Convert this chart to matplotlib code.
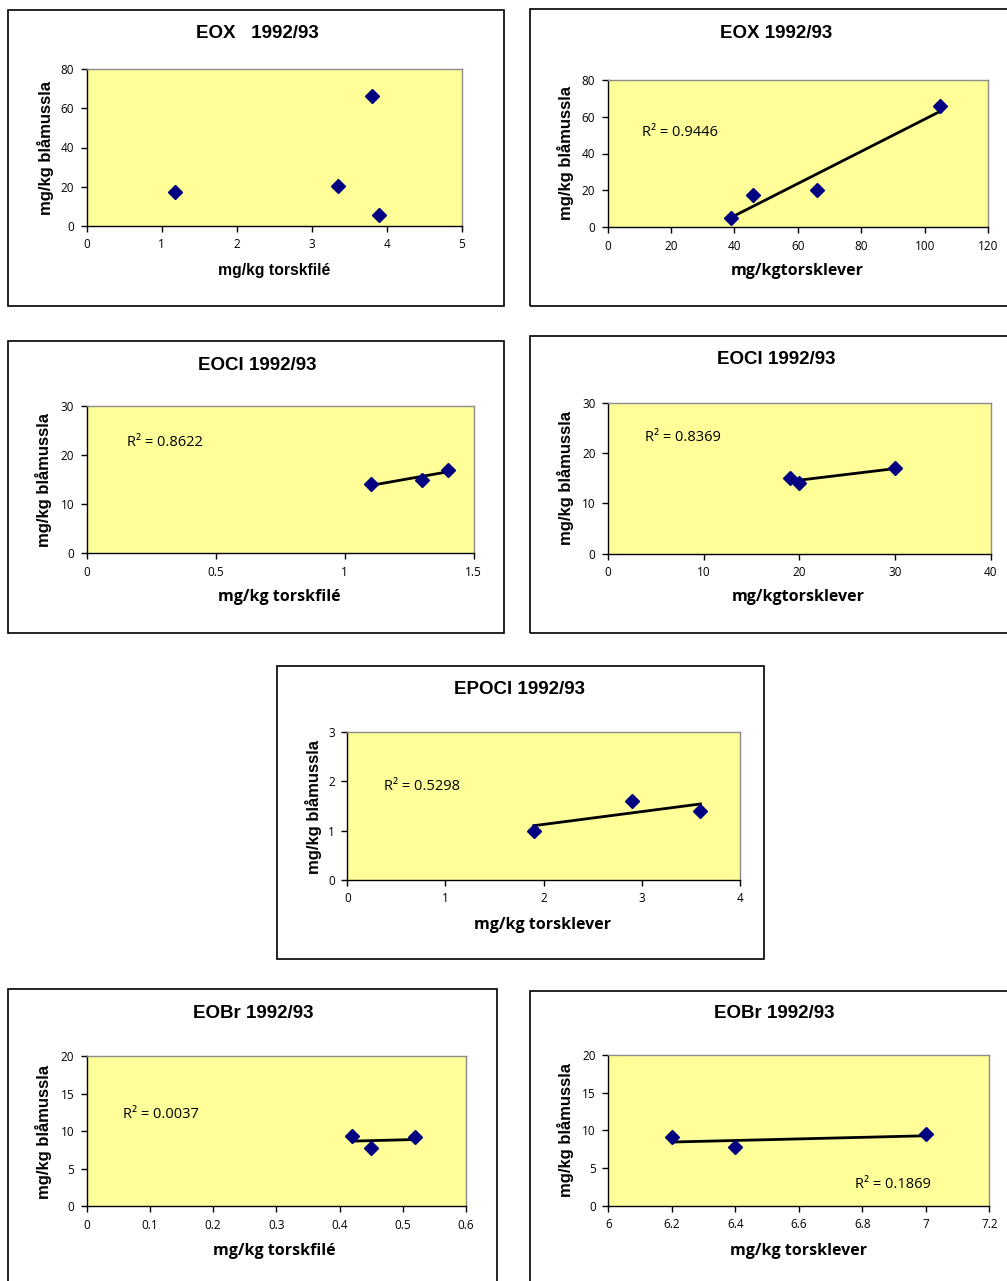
import matplotlib
matplotlib.use("Agg")
import matplotlib.pyplot as plt
import numpy as np
from matplotlib.patches import Rectangle
from matplotlib.ticker import FuncFormatter

W, H = 1007, 1281

# ---- data ----
eox_fil_x = [1.17, 3.35, 3.8, 3.9]
eox_fil_y = [17.5, 20.5, 66, 5.5]
eox_lev_x = [39, 46, 66, 105]
eox_lev_y = [5, 17.5, 20, 66]
eocl_fil_x = [1.1, 1.3, 1.4]
eocl_fil_y = [14, 15, 17]
eocl_lev_x = [19, 20, 30]
eocl_lev_y = [15, 14, 17]
epocl_lev_x = [1.9, 2.9, 3.6]
epocl_lev_y = [1.0, 1.6, 1.4]
eobr_fil_x = [0.42, 0.45, 0.52]
eobr_fil_y = [9.4, 7.7, 9.2]
eobr_lev_x = [6.2, 6.4, 7.0]
eobr_lev_y = [9.1, 7.8, 9.5]

titles = ["EOX   1992/93", "EOX 1992/93", "EOCl 1992/93", "EOCl 1992/93",
          "EPOCl 1992/93", "EOBr 1992/93", "EOBr 1992/93"]
xlabels = ["mg/kg torskfilé", "mg/kgtorsklever", "mg/kg torskfilé", "mg/kgtorsklever",
           "mg/kg torsklever", "mg/kg torskfilé", "mg/kg torsklever"]
ylabel = "mg/kg blåmussla"
r2_texts = [None, "R² = 0.9446", "R² = 0.8622", "R² = 0.8369", "R² = 0.5298",
            "R² = 0.0037", "R² = 0.1869"]
xticks = [[0, 1, 2, 3, 4, 5], [0, 20, 40, 60, 80, 100, 120], [0, 0.5, 1, 1.5],
          [0, 10, 20, 30, 40], [0, 1, 2, 3, 4], [0, 0.1, 0.2, 0.3, 0.4, 0.5, 0.6],
          [6, 6.2, 6.4, 6.6, 6.8, 7, 7.2]]
yticks = [[0, 20, 40, 60, 80], [0, 20, 40, 60, 80], [0, 10, 20, 30], [0, 10, 20, 30],
          [0, 1, 2, 3], [0, 5, 10, 15, 20], [0, 5, 10, 15, 20]]
datasets = [(eox_fil_x, eox_fil_y), (eox_lev_x, eox_lev_y), (eocl_fil_x, eocl_fil_y),
            (eocl_lev_x, eocl_lev_y), (epocl_lev_x, epocl_lev_y),
            (eobr_fil_x, eobr_fil_y), (eobr_lev_x, eobr_lev_y)]

# ---- layout (pixels) ----
frames = [(8, 10, 504, 306), (530, 9, 1012, 306), (8, 341, 504, 633), (530, 336, 1012, 633),
          (277, 666, 764, 959), (8, 989, 497, 1290), (530, 991, 1012, 1290)]
plots = [(86.7, 69, 462, 226), (607.7, 80, 988, 227), (86.7, 406, 473.7, 553),
         (608, 403, 990.7, 553.7), (347.3, 732.3, 739.7, 879.7),
         (86.7, 1056, 466, 1206.3), (608.3, 1054.7, 989.3, 1206)]
title_pos = [(257, 33), (776, 33), (257, 365), (776, 360), (520, 689), (253, 1013), (774, 1014)]
ylabel_pos = [(45, 148), (565, 153), (43, 480), (565, 478), (313, 807), (43, 1132), (565, 1130)]
xlabel_pos = [(274, 270), (797, 271), (279, 597), (798, 597), (543, 925), (274, 1251), (799, 1251)]
r2_pos = [None, (642, 133), (127, 443), (645, 438), (384, 786), (123, 1114), (855, 1185)]

fig = plt.figure(figsize=(W / 100, H / 100), dpi=100)
fig.patch.set_facecolor("white")


def fx(x):
    return x / W


def fy(y):
    return 1 - y / H


fmt = FuncFormatter(lambda v, p: "%g" % v)

for i in range(7):
    l, t, r, b = frames[i]
    fig.patches.append(Rectangle((fx(l), fy(b)), (r - l) / W, (b - t) / H,
                                 transform=fig.transFigure, fill=False,
                                 ec="black", lw=1.2, zorder=0))
    pl, pt, pr, pb = plots[i]
    ax = fig.add_axes([fx(pl), fy(pb), (pr - pl) / W, (pb - pt) / H])
    ax.set_facecolor("#FFFF99")
    x, y = datasets[i]
    if r2_texts[i] is not None:
        k, c = np.polyfit(x, y, 1)
        xs = np.array([min(x), max(x)])
        ax.plot(xs, k * xs + c, color="black", lw=2.0, zorder=3)
    ax.plot(x, y, linestyle="none", marker="D", markersize=7.2,
            color="#000080", zorder=4, clip_on=False)
    ax.set_xlim(xticks[i][0], xticks[i][-1])
    ax.set_ylim(yticks[i][0], yticks[i][-1])
    ax.set_xticks(xticks[i])
    ax.set_yticks(yticks[i])
    ax.xaxis.set_major_formatter(fmt)
    ax.yaxis.set_major_formatter(fmt)
    ax.tick_params(direction="out", length=4, width=1, pad=5,
                   labelsize=8.5, color="black")
    for lab in ax.get_xticklabels() + ax.get_yticklabels():
        lab.set_fontfamily("Open Sans")
    ax.spines["left"].set_color("black")
    ax.spines["bottom"].set_color("black")
    ax.spines["top"].set_color("#8c8c8c")
    ax.spines["right"].set_color("#8c8c8c")
    for s in ax.spines.values():
        s.set_linewidth(1.0)

    tx, ty = title_pos[i]
    fig.text(fx(tx), fy(ty), titles[i], ha="center", va="center",
             fontsize=13.5, fontweight="bold", family="Liberation Sans")
    yx, yy = ylabel_pos[i]
    fig.text(fx(yx), fy(yy), ylabel, ha="center", va="center", rotation=90,
             fontsize=12, fontweight="bold", family="Liberation Sans")
    xx, xy = xlabel_pos[i]
    if i == 0:
        fig.text(fx(xx), fy(xy), xlabels[i], ha="center", va="center",
                 fontsize=11.3, fontweight="bold", family="Liberation Sans")
    else:
        fig.text(fx(xx), fy(xy), xlabels[i], ha="center", va="center",
                 fontsize=11.5, fontweight="bold", family="Open Sans")
    if r2_texts[i] is not None:
        rx, ry = r2_pos[i]
        fig.text(fx(rx), fy(ry), r2_texts[i], ha="left", va="center",
                 fontsize=10.5, family="Open Sans")

fig.savefig("out.png", dpi=100)
